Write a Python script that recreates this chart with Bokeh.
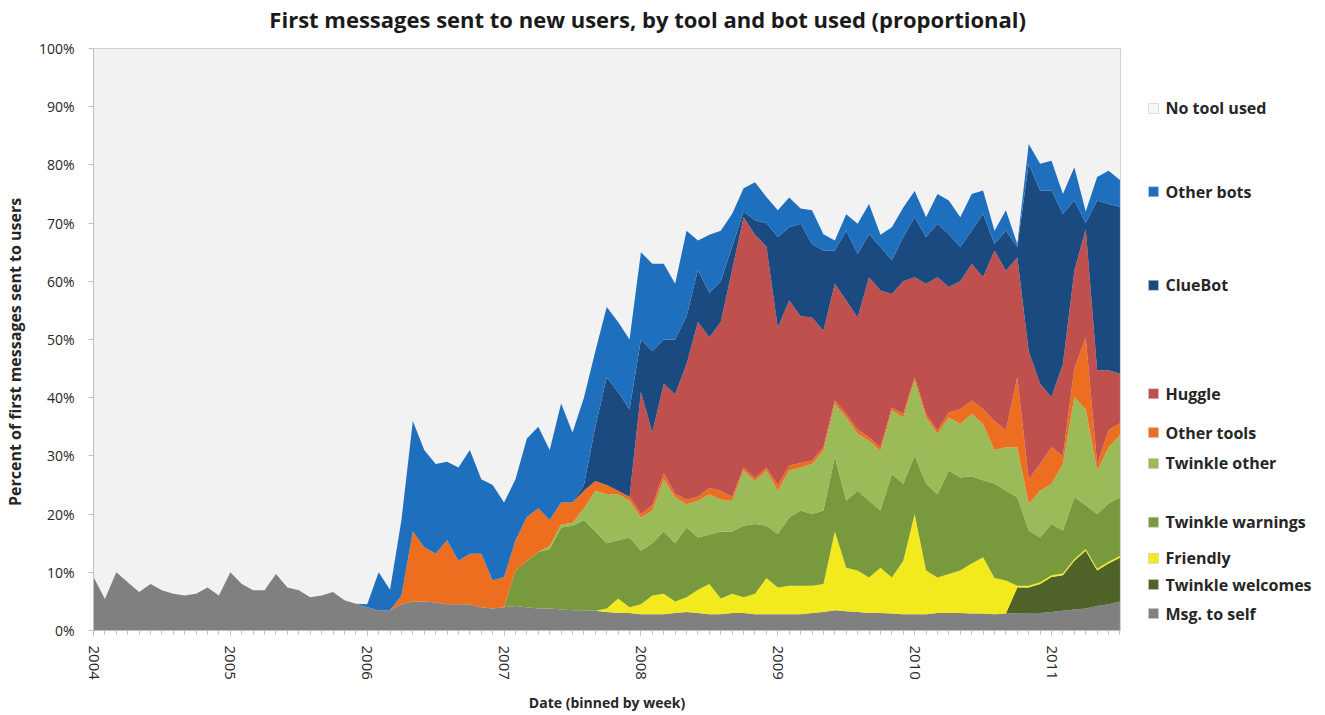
import pandas as pd
from bokeh.plotting import figure
from bokeh.models import ColumnDataSource, FixedTicker, PrintfTickFormatter, Range1d
from bokeh.layouts import row, column
from bokeh.embed import file_html
from bokeh.resources import INLINE
from bokeh.core.properties import value

# ---------------- data (percent of first messages, monthly samples) ----------------
months = pd.date_range("2004-01-01", periods=91, freq="MS")

msg_to_self = [9.2, 5.4, 10.0, 8.3, 6.6, 8.0, 6.9, 6.3, 6.0, 6.3, 7.4, 6.0,
               10.0, 8.0, 6.9, 6.9, 9.7, 7.4, 6.9, 5.7, 6.0, 6.6, 5.2, 4.6,
               4.0, 3.5, 3.5, 4.5, 5.0, 5.0, 4.8, 4.5, 4.5, 4.5, 4.0, 3.8,
               4.0, 4.2, 4.0, 3.8, 3.8, 3.6, 3.5, 3.5, 3.4, 3.2, 3.0, 3.0,
               2.8, 2.8, 2.8, 3.0, 3.2, 3.0, 2.8, 2.8, 3.0, 3.0, 2.8, 2.8,
               2.8, 2.8, 2.8, 3.0, 3.2, 3.5, 3.3, 3.2, 3.0, 3.0, 2.9, 2.8,
               2.8, 2.8, 3.0, 3.0, 3.0, 2.9, 2.9, 2.8, 2.9, 2.9, 3.0, 3.0,
               3.2, 3.4, 3.6, 3.8, 4.2, 4.5, 5.0]

twinkle_welcomes = [0.0] * 81 + [4.5, 4.4, 5.0, 6.0, 6.1, 8.4, 9.9, 6.1, 7.0, 7.5]

friendly = ([0.0] * 44 + [0.0, 0.6, 2.5, 1.0,
            1.7, 3.2, 3.5, 2.0, 2.5, 4.0, 5.2, 2.7, 3.3, 2.7, 3.5, 6.2,
            4.6, 4.9, 4.9, 4.7, 4.8, 13.5, 7.5, 7.1, 6.1, 7.8, 6.2, 9.2,
            17.2, 7.5, 6.1, 6.7, 7.3, 8.6, 9.7, 6.2, 5.7] + [0.3] * 10)

twinkle_warnings = ([0.0] * 37 + [6.1, 8.0, 9.7, 10.2, 14.1, 14.5, 15.5, 13.6, 11.2, 10.0, 12.0,
                    9.2, 9.0, 10.7, 10.0, 12.0, 9.0, 8.5, 11.5, 10.7, 12.3, 12.0, 9.0,
                    9.2, 11.7, 12.9, 12.3, 12.6, 12.8, 11.5, 13.7, 13.2, 9.8, 17.8, 13.2,
                    10.0, 14.9, 14.3, 17.8, 16.0, 15.0, 13.2, 16.2, 15.4, 15.2, 9.5, 7.7,
                    8.8, 7.4, 10.6, 7.5, 9.4, 10.0, 10.1])

twinkle_other = ([0.0] * 40 + [0.5, 0.5, 0.5, 2.0, 7.0, 8.4, 7.9, 6.3,
                 5.7, 5.6, 9.0, 7.9, 4.0, 6.3, 6.9, 5.5, 5.3, 9.5, 7.4, 9.5,
                 7.4, 8.1, 7.4, 8.6, 10.3, 9.1, 14.3, 9.8, 10.3, 10.3, 10.9, 11.4,
                 13.0, 11.4, 10.4, 9.1, 9.2, 10.7, 9.7, 5.8, 7.5, 8.6, 4.6, 8.0,
                 6.9, 11.4, 17.2, 16.5, 7.5, 9.7, 10.7])

other_tools = ([0.0] * 27 + [1.5, 12.0, 9.3, 8.4, 11.0, 7.5, 8.7, 9.2, 4.8,
               5.2, 5.2, 7.5, 7.5, 4.5, 3.8, 3.5, 3.0, 1.7, 1.6, 0.6, 0.7,
               0.6, 0.9, 1.0, 0.6, 0.8, 0.7, 1.1, 1.5, 0.7, 0.5, 0.5, 0.5,
               1.0, 0.8, 0.8, 0.6, 0.6, 0.6, 0.6, 0.7, 0.6, 0.6, 0.5, 0.6,
               0.5, 0.6, 0.6, 0.9, 2.5, 2.3, 2.5, 5.0, 2.9, 12.0, 4.2, 4.6,
               6.3, 1.4, 4.9, 12.4, 1.1, 2.9, 2.0])

huggle = ([0.0] * 48 + [21.0, 12.5, 15.4, 17.1, 23.3, 30.0, 25.9, 29.0, 39.0, 43.0, 41.8, 38.0,
          27.0, 28.4, 25.2, 24.6, 20.0, 20.1, 19.5, 19.3, 27.5, 26.9, 19.5, 22.8,
          17.2, 22.4, 26.3, 21.5, 22.0, 23.5, 22.7, 29.3, 27.4, 20.6, 22.0, 13.8,
          8.6, 15.8, 16.8, 18.6, 16.1, 10.3, 8.5])

cluebot = ([0.0] * 43 + [1.0, 9.3, 18.5, 17.0, 15.0,
           9.0, 14.0, 7.6, 9.4, 8.2, 9.0, 7.6, 7.0, 4.0, 1.0, 2.5, 4.0,
           15.6, 12.6, 15.9, 12.6, 13.8, 5.7, 12.0, 10.9, 7.4, 7.5, 5.8, 7.6,
           10.3, 8.0, 9.2, 9.1, 5.9, 5.7, 10.9, 1.1, 6.9, 1.8, 32.2, 33.2,
           35.5, 25.8, 12.1, 1.0, 29.2, 28.6, 28.7])

other_bots = ([0.0] * 24 + [0.5, 6.5, 3.5, 13.0, 19.0, 16.7, 15.4, 13.5, 16.0, 17.8, 12.8, 16.4,
              12.8, 10.5, 13.5, 14.0, 12.0, 17.0, 12.0, 15.0, 13.0, 12.1, 12.0, 12.0,
              15.0, 15.0, 13.0, 9.6, 14.7, 5.0, 10.0, 8.7, 5.6, 4.0, 6.5, 4.5,
              4.6, 5.1, 2.6, 5.8, 2.8, 1.7, 2.8, 5.2, 5.2, 2.1, 5.7, 5.1,
              4.5, 3.4, 5.1, 5.8, 5.1, 6.3, 4.0, 2.3, 3.5, 0.5, 3.4, 4.6,
              5.1, 3.4, 5.7, 2.0, 4.0, 5.7, 4.6])

series_names = ["Msg. to self", "Twinkle welcomes", "Friendly", "Twinkle warnings",
                "Twinkle other", "Other tools", "Huggle", "ClueBot", "Other bots"]
legend_labels = ["No tool used", "Other bots", "ClueBot", "Huggle", "Other tools",
                 "Twinkle other", "Twinkle warnings", "Friendly", "Twinkle welcomes", "Msg. to self"]
year_ticks = [2004, 2005, 2006, 2007, 2008, 2009, 2010, 2011]
pct_ticks = [0, 10, 20, 30, 40, 50, 60, 70, 80, 90, 100]
title_text = "First messages sent to new users, by tool and bot used  (proportional)"

# ---------------- styles / layout ----------------
colors = ["#808080", "#4f6228", "#f2ea1c", "#789a3c", "#9bba58",
          "#ec6e1e", "#c0504d", "#1b4a80", "#1f6fbf"]
legend_colors = ["#f7f7f7", "#1f6fbf", "#1b4a80", "#c0504d", "#ec6e1e",
                 "#9bba58", "#789a3c", "#f2ea1c", "#4f6228", "#808080"]
legend_y = [89.7, 75.4, 59.3, 40.7, 34.0, 28.7, 18.6, 12.4, 7.9, 2.9]
FONT = "Open Sans"
TXT = "#262626"

xdec = [d.year + (d.month - 1) / 12.0 for d in months]
keys = ["s%d" % i for i in range(9)]
data = {"x": xdec}
for k, arr in zip(keys, [msg_to_self, twinkle_welcomes, friendly, twinkle_warnings,
                         twinkle_other, other_tools, huggle, cluebot, other_bots]):
    data[k] = arr
src = ColumnDataSource(data)

HEAD_H = 36
H = 714 - HEAD_H
TOP, BOTTOM = 12, 84

# ---------------- title strip ----------------
head = figure(width=1320, height=HEAD_H, x_range=Range1d(0, 1320), y_range=Range1d(0, HEAD_H),
              toolbar_location=None, output_backend="svg",
              x_axis_location=None, y_axis_location=None,
              min_border_left=0, min_border_right=0, min_border_top=0, min_border_bottom=0,
              outline_line_color=None, background_fill_color="white", border_fill_color="white")
head.grid.visible = False
head.text(x=[650], y=[HEAD_H - 18], text=[title_text], text_align="center", text_baseline="middle",
          text_font=value(FONT), text_font_style="bold", text_font_size="22px", text_color="#1a1a1a")

# ---------------- main chart ----------------
p = figure(width=1125, height=H, x_range=Range1d(2004, 2011.504), y_range=Range1d(0, 100),
           toolbar_location=None, output_backend="svg",
           min_border_left=92, min_border_right=5, min_border_top=TOP, min_border_bottom=BOTTOM,
           background_fill_color="#f2f2f2", border_fill_color="white",
           outline_line_color="#d0d0d0")
p.varea_stack(stackers=keys, x="x", color=colors, source=src)
p.grid.visible = False

xa = p.xaxis[0]
xa.ticker = FixedTicker(ticks=year_ticks, minor_ticks=xdec)
xa.formatter = PrintfTickFormatter(format="%d")
xa.major_label_orientation = "vertical"
xa.major_label_text_font = FONT
xa.major_label_text_font_size = "15px"
xa.major_label_text_color = TXT
xa.major_label_standoff = 10
xa.axis_label = "Date (binned by week)"
xa.axis_label_text_font = FONT
xa.axis_label_text_font_size = "14px"
xa.axis_label_text_font_style = "bold"
xa.axis_label_text_color = TXT
xa.axis_label_standoff = 10
xa.axis_line_color = "#bfbfbf"
xa.major_tick_line_color = "#bfbfbf"
xa.minor_tick_line_color = "#bfbfbf"
xa.major_tick_in = 0
xa.major_tick_out = 5
xa.minor_tick_in = 0
xa.minor_tick_out = 4

ya = p.yaxis[0]
ya.ticker = FixedTicker(ticks=pct_ticks)
ya.formatter = PrintfTickFormatter(format="%d%%")
ya.major_label_text_font = FONT
ya.major_label_text_font_size = "14px"
ya.major_label_text_color = TXT
ya.major_label_standoff = 14
ya.axis_label = "Percent  of  first  messages  sent  to  users"
ya.axis_label_text_font = FONT
ya.axis_label_text_font_size = "16px"
ya.axis_label_text_font_style = "bold"
ya.axis_label_text_color = TXT
ya.axis_label_standoff = 10
ya.axis_line_color = "#bfbfbf"
ya.major_tick_line_color = "#bfbfbf"
ya.major_tick_in = 0
ya.major_tick_out = 5
ya.minor_tick_line_color = None

# ---------------- legend panel ----------------
leg = figure(width=195, height=H, x_range=Range1d(0, 195), y_range=Range1d(0, 100),
             toolbar_location=None, output_backend="svg",
             x_axis_location=None, y_axis_location=None,
             min_border_left=0, min_border_right=0, min_border_top=TOP, min_border_bottom=BOTTOM,
             outline_line_color=None, background_fill_color="white", border_fill_color="white")
leg.grid.visible = False
lsrc = ColumnDataSource({"y": legend_y, "label": legend_labels, "color": legend_colors})
leg.rect(x=28, y="y", width=10, height=10, width_units="screen", height_units="screen",
         fill_color="color", line_color="#c8c8c8", line_width=0.6, source=lsrc)
leg.text(x=40, y="y", text="label", source=lsrc, text_baseline="middle", text_align="left",
         text_font=value(FONT), text_font_style="bold", text_font_size="16px", text_color=TXT)

layout = column(head, row(p, leg))
open("out.html", "w").write(file_html(layout, INLINE))
